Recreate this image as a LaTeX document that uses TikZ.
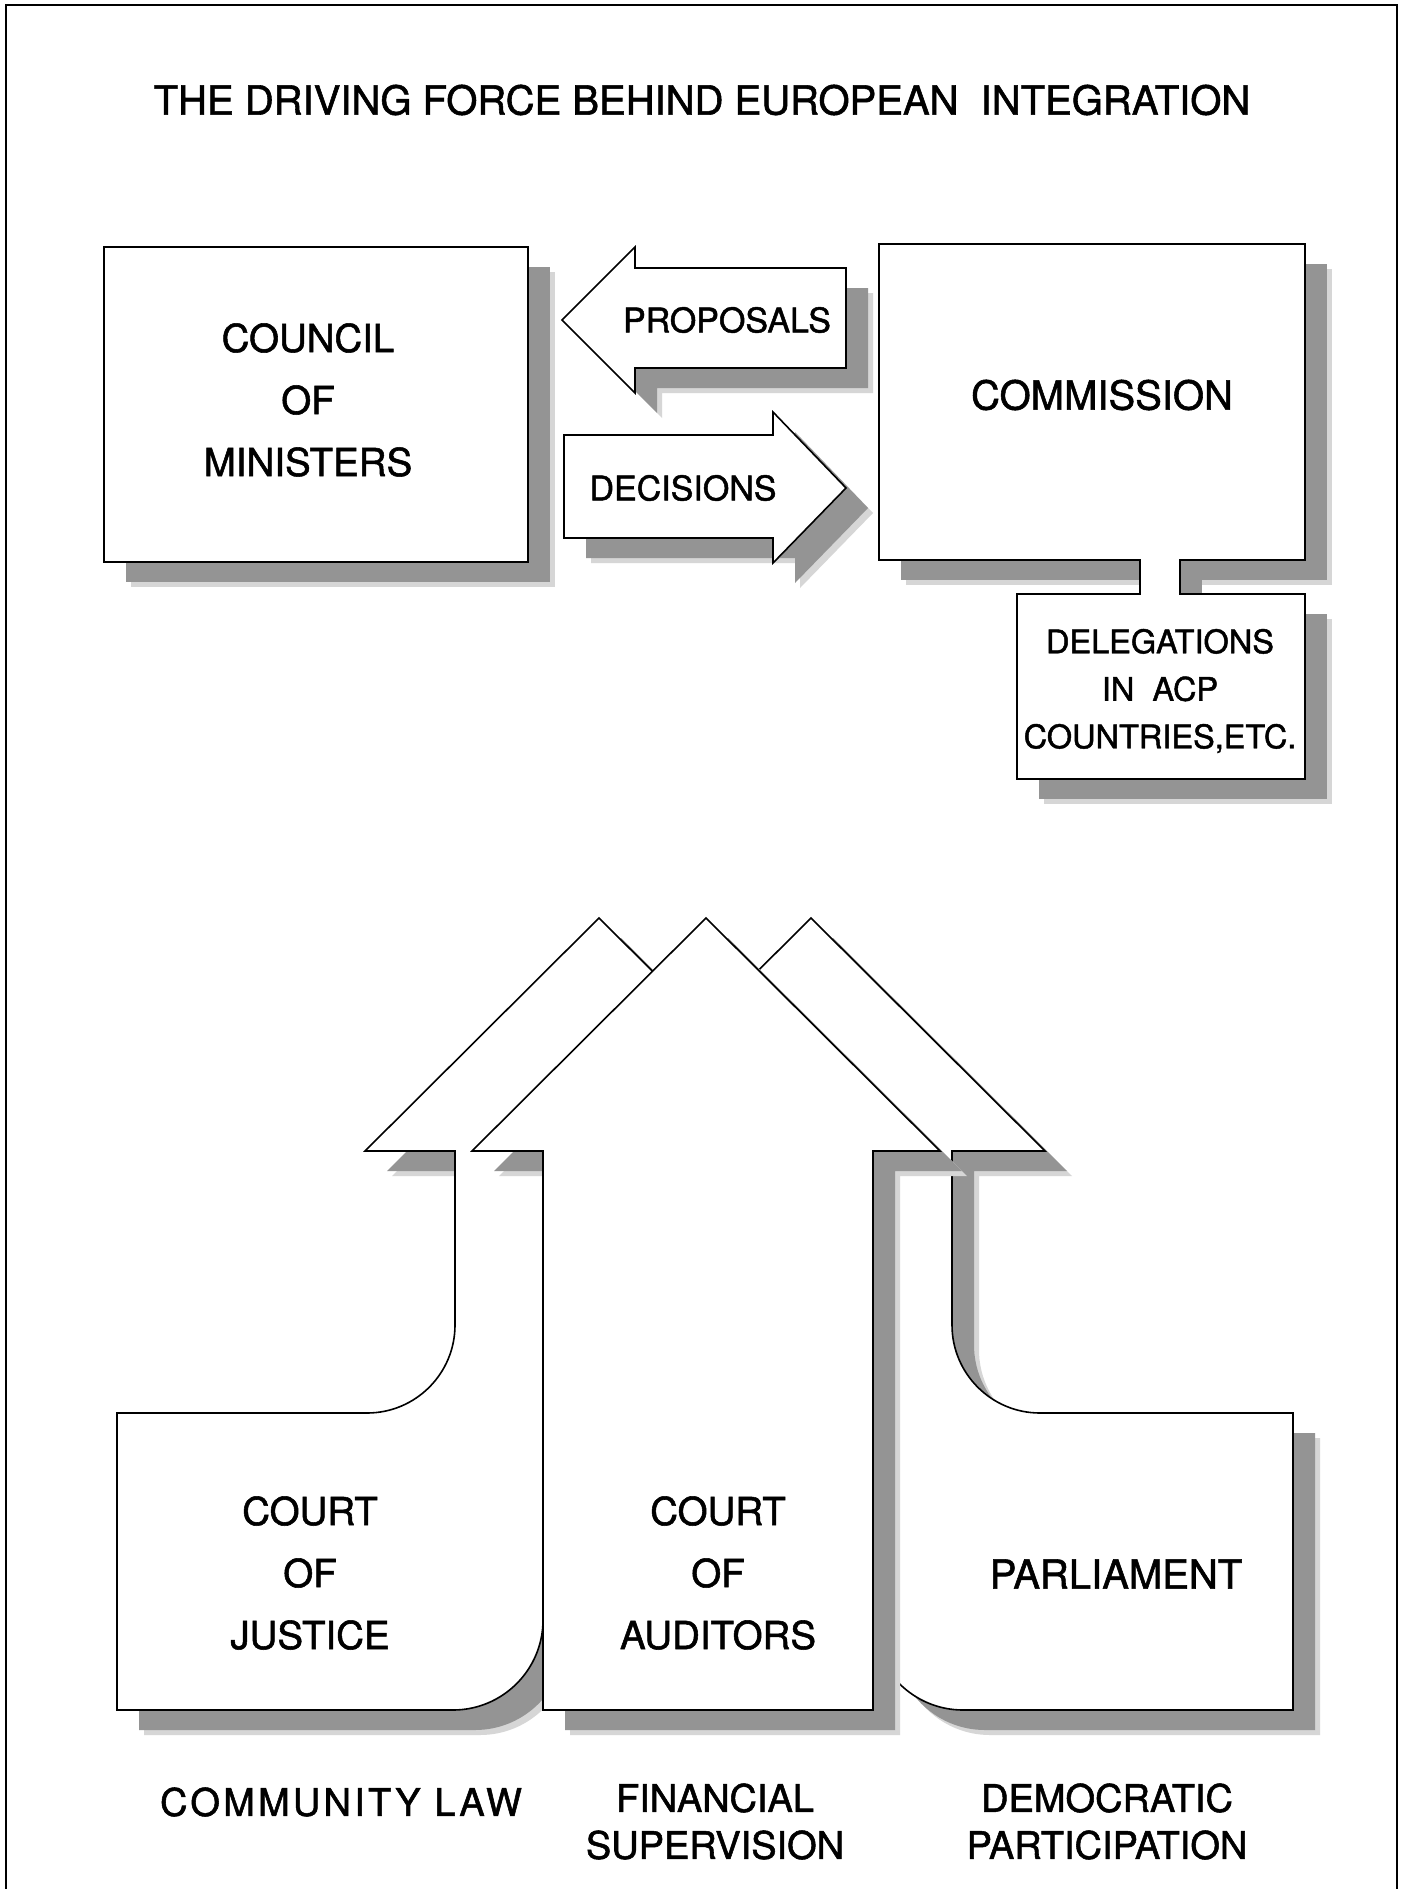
\documentclass[tikz,border=0pt]{standalone}
\usepackage{fontspec}
\setmainfont{TeX Gyre Heros}
\newfontfamily\hv[FakeBold=1.4]{TeX Gyre Heros}
\newfontfamily\hvw[LetterSpace=8.5,FakeBold=1.4]{TeX Gyre Heros}
\usetikzlibrary{shadows}
\begin{document}
\begin{tikzpicture}[x=1pt,y=-1pt, line width=1.6pt, line join=miter,
  shd/.style={general shadow={fill=black!16,shadow xshift=27pt,shadow yshift=-25pt},
              general shadow={fill=black!42,shadow xshift=22pt,shadow yshift=-20pt}},
  boxst/.style={draw, fill=white, shd, inner sep=0pt},
  arrst/.style={draw, fill=white, shd},
  lblbig/.style={font=\hv\fontsize{38.5}{62}\selectfont, align=center, inner sep=0pt},
  lblmid/.style={font=\hv\fontsize{34}{40}\selectfont, align=center, inner sep=0pt},
  lblsml/.style={font=\hv\fontsize{32.5}{47.5}\selectfont, align=center, inner sep=0pt},
  lblcap/.style={font=\hv\fontsize{38}{47}\selectfont, align=center, inner sep=0pt}]
\useasboundingbox (0,0) rectangle (1403,1889);
\fill[white] (0,0) rectangle (1403,1889);

% frame
\draw[line width=1.4pt] (6,1889) -- (6,5) -- (1397,5) -- (1397,1889);

% title
\node[font=\hv\fontsize{40}{44}\selectfont, inner sep=0pt] (title) at (702,100)
  {THE DRIVING FORCE BEHIND EUROPEAN\ \ INTEGRATION};

% top boxes
\node[boxst, minimum width=424pt, minimum height=315pt] (council) at (316,404.5) {};
\node[boxst, minimum width=426pt, minimum height=316pt] (comm) at (1092,402) {};
\node[boxst, minimum width=288pt, minimum height=185pt] (deleg) at (1161,686.5) {};

% neck between Commission and Delegations
\coordinate (nkL) at (1140,577);
\coordinate (nkR) at (1180,577);
\fill[black!42] (1181,570) rectangle (1202,593);
\fill[white] (1140.8,557) rectangle (1179.2,596.5);
\draw (nkL |- comm.south) -- (nkL |- deleg.north);
\draw (nkR |- comm.south) -- (nkR |- deleg.north);

% proposals / decisions arrows
\draw[arrst] (562,320) -- (635,247) -- (635,268) -- (846,268) -- (846,368)
  -- (635,368) -- (635,393) -- cycle;
\draw[arrst] (564,435) -- (773,435) -- (773,412) -- (846,488) -- (773,563)
  -- (773,538) -- (564,538) -- cycle;

% top labels
\node[lblbig] (councilT) at (308,400) {COUNCIL\\OF\\MINISTERS};
\node[font=\hv\fontsize{40}{44}\selectfont, inner sep=0pt] (commT) at (1102,395) {COMMISSION};
\node[lblsml] (delegT) at (1160,691) {DELEGATIONS\\IN\ \ ACP\\COUNTRIES,ETC.};
\node[lblmid] (propT) at (727,320) {PROPOSALS};
\node[lblmid] (decT) at (683,488) {DECISIONS};

% bottom arrows: left (Court of Justice)
\draw[arrst] (599,918) -- (365,1151) -- (455,1151) -- (455,1325)
  .. controls (455,1373.6) and (415.6,1413) .. (367,1413)
  -- (117,1413) -- (117,1710) -- (453,1710)
  .. controls (502.7,1710) and (543,1669.7) .. (543,1620)
  -- (543,1151) -- (833,1151) -- cycle;
% right (Parliament)
\draw[arrst] (811,918) -- (1045,1151) -- (952,1151) -- (952,1325)
  .. controls (952,1373.6) and (991.4,1413) .. (1040,1413)
  -- (1293,1413) -- (1293,1710) -- (963,1710)
  .. controls (913.3,1710) and (873,1669.7) .. (873,1620)
  -- (873,1151) -- (577,1151) -- cycle;
% middle (Court of Auditors)
\draw[arrst] (706,918) -- (940,1151) -- (873,1151) -- (873,1710)
  -- (543,1710) -- (543,1151) -- (472,1151) -- cycle;

% bottom labels
\node[lblbig] (cjT) at (310,1573) {COURT\\OF\\JUSTICE};
\node[lblbig] (caT) at (718,1573) {COURT\\OF\\AUDITORS};
\node[font=\hv\fontsize{40}{44}\selectfont, inner sep=0pt] (parlT) at (1116,1574) {PARLIAMENT};

\node[font=\hvw\fontsize{38}{44}\selectfont, inner sep=0pt] (lawT) at (341,1802) {COMMUNITY LAW};
\node[lblcap] (finT) at (715,1821.5) {FINANCIAL\\SUPERVISION};
\node[lblcap] (demT) at (1107,1821.5) {DEMOCRATIC\\PARTICIPATION};
\end{tikzpicture}
\end{document}
